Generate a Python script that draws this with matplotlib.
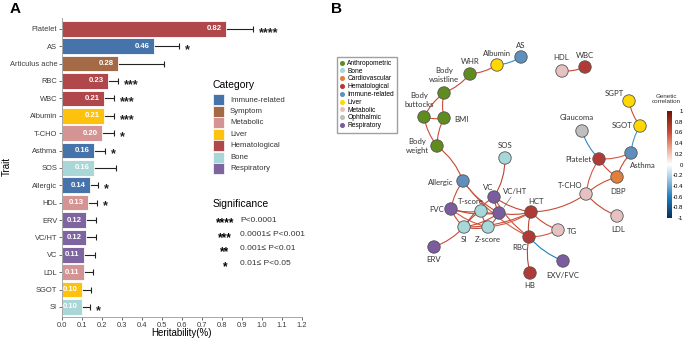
import numpy as np
import matplotlib
matplotlib.use("Agg")
import matplotlib.pyplot as plt
from matplotlib.patches import Rectangle, FancyArrowPatch
from matplotlib.lines import Line2D
from matplotlib.colors import LinearSegmentedColormap, Normalize
from matplotlib.cm import ScalarMappable

plt.rcParams['font.family'] = ['Liberation Sans', 'DejaVu Sans']

# ---- panel A data ----
traits = ['Platelet', 'AS', 'Articulus ache', 'RBC', 'WBC', 'Albumin', 'T-CHO',
          'Asthma', 'SOS', 'Allergic', 'HDL', 'ERV', 'VC/HT', 'VC', 'LDL',
          'SGOT', 'SI']
heritability = [0.82, 0.46, 0.28, 0.23, 0.21, 0.21, 0.20, 0.16, 0.16, 0.14,
                0.13, 0.12, 0.12, 0.11, 0.11, 0.10, 0.10]
herit_upper = [0.955, 0.585, 0.51, 0.28, 0.26, 0.26, 0.258, 0.213, 0.27, 0.18,
               0.174, 0.168, 0.168, 0.165, 0.157, 0.145, 0.14]
trait_category = ['Hematological', 'Immune-related', 'Symptom', 'Hematological',
                  'Hematological', 'Liver', 'Metabolic', 'Immune-related', 'Bone',
                  'Immune-related', 'Metabolic', 'Respiratory', 'Respiratory',
                  'Respiratory', 'Metabolic', 'Liver', 'Bone']
significance = ['****', '*', '', '***', '***', '***', '*', '*', '', '*', '*',
                '', '', '', '', '', '*']

categories = ['Immune-related', 'Symptom', 'Metabolic', 'Liver',
              'Hematological', 'Bone', 'Respiratory']
category_colors = ['#4673aa', '#a46a46', '#d59494', '#fec20c',
                   '#b0474a', '#a9d6d6', '#7e65a0']
sig_levels = ['****', '***', '**', '*']
sig_labels = ['P<0.0001', '0.0001\u2264 P<0.001', '0.001\u2264 P<0.01', '0.01\u2264 P<0.05']

# ---- panel B data ----
net_nodes = ['AS', 'Albumin', 'WHR', 'Body\nwaistline', 'Body\nbuttocks', 'BMI',
             'Body\nweight', 'HDL', 'WBC', 'SGPT', 'SGOT', 'Glaucoma', 'Asthma',
             'Platelet', 'SOS', 'DBP', 'Allergic', 'VC', 'VC/HT', 'T-score',
             'FVC', 'SI', 'Z-score', 'HCT', 'RBC', 'TG', 'HB', 'EXV/FVC',
             'ERV', 'T-CHO', 'LDL']
net_category = ['Immune-related', 'Liver', 'Anthropometric', 'Anthropometric',
                'Anthropometric', 'Anthropometric', 'Anthropometric', 'Metabolic',
                'Hematological', 'Liver', 'Liver', 'Ophthalmic', 'Immune-related',
                'Hematological', 'Bone', 'Cardiovascular', 'Immune-related',
                'Respiratory', 'Respiratory', 'Bone', 'Respiratory', 'Bone', 'Bone',
                'Hematological', 'Hematological', 'Metabolic', 'Hematological',
                'Respiratory', 'Respiratory', 'Metabolic', 'Metabolic']
net_edges = [('Albumin', 'AS'), ('WHR', 'Albumin'), ('Body\nwaistline', 'WHR'),
             ('Body\nwaistline', 'Body\nbuttocks'), ('Body\nwaistline', 'BMI'),
             ('Body\nbuttocks', 'BMI'), ('Body\nbuttocks', 'Body\nweight'),
             ('BMI', 'Body\nweight'), ('Body\nweight', 'Allergic'), ('HDL', 'WBC'),
             ('SGPT', 'SGOT'), ('SGOT', 'Asthma'), ('Glaucoma', 'Platelet'),
             ('Platelet', 'Asthma'), ('Platelet', 'DBP'), ('Asthma', 'DBP'),
             ('DBP', 'T-CHO'), ('Platelet', 'T-CHO'), ('T-CHO', 'LDL'),
             ('T-CHO', 'HCT'), ('SOS', 'VC'), ('Allergic', 'FVC'),
             ('Allergic', 'VC/HT'), ('Allergic', 'RBC'), ('FVC', 'T-score'),
             ('FVC', 'VC/HT'), ('FVC', 'SI'), ('FVC', 'Z-score'), ('VC', 'VC/HT'),
             ('VC', 'SI'), ('VC', 'HCT'), ('VC', 'RBC'), ('T-score', 'SI'),
             ('T-score', 'Z-score'), ('T-score', 'VC/HT'), ('SI', 'Z-score'),
             ('SI', 'VC/HT'), ('SI', 'HCT'), ('Z-score', 'VC/HT'), ('Z-score', 'HCT'),
             ('VC/HT', 'HCT'), ('HCT', 'RBC'), ('HCT', 'TG'), ('RBC', 'TG'),
             ('RBC', 'HB'), ('RBC', 'EXV/FVC'), ('ERV', 'SI')]
edge_corr = [-0.55, 0.6, 0.62, 0.6, 0.6, 0.58, 0.6, 0.6, 0.62, 0.65,
             0.6, -0.5, -0.55, 0.55, 0.6, 0.62, 0.6, 0.55, 0.62, 0.6,
             0.65, 0.6, 0.62, 0.55, 0.6, 0.62, 0.6, 0.55, 0.65, 0.6,
             0.62, 0.6, 0.65, 0.62, 0.6, 0.65, 0.6, 0.58, 0.62, 0.55,
             0.62, 0.65, 0.62, 0.55, 0.65, -0.6, 0.6]

net_categories = ['Anthropometric', 'Bone', 'Cardiovascular', 'Hematological',
                  'Immune-related', 'Liver', 'Metabolic', 'Ophthalmic', 'Respiratory']
net_colors = ['#5f8b1f', '#a7d7d8', '#e0803a', '#b03a36', '#5e8fbd',
              '#ffd800', '#e6c1c1', '#bfbfbf', '#7a5c9f']

# node layout (pixel-like units of panel B) and label placement
layout = {
    'AS': (521, 57), 'Albumin': (497, 65), 'WHR': (470, 74),
    'Body\nwaistline': (444, 93), 'Body\nbuttocks': (424, 117), 'BMI': (444, 118),
    'Body\nweight': (437, 146), 'HDL': (562, 71), 'WBC': (585, 67),
    'SGPT': (629, 101), 'SGOT': (640, 126), 'Glaucoma': (582, 131),
    'Asthma': (631, 153), 'Platelet': (599, 159), 'SOS': (505, 158),
    'DBP': (617, 177), 'Allergic': (463, 181), 'VC': (494, 197),
    'VC/HT': (499, 213), 'T-score': (481, 211), 'FVC': (451, 209),
    'SI': (464, 227), 'Z-score': (488, 227), 'HCT': (531, 212),
    'RBC': (529, 237), 'TG': (558, 230), 'HB': (530, 273),
    'EXV/FVC': (563, 261), 'ERV': (434, 247), 'T-CHO': (586, 194),
    'LDL': (617, 216),
}
label_pos = {
    'AS': (521, 45), 'Albumin': (497, 53), 'WHR': (470, 62),
    'Body\nwaistline': (444, 75), 'Body\nbuttocks': (419, 100), 'BMI': (461, 119),
    'Body\nweight': (417, 146), 'HDL': (561, 58), 'WBC': (585, 56),
    'SGPT': (614, 94), 'SGOT': (622, 126), 'Glaucoma': (577, 117),
    'Asthma': (643, 166), 'Platelet': (578, 160), 'SOS': (505, 146),
    'DBP': (618, 191), 'Allergic': (441, 182), 'VC': (488, 188),
    'VC/HT': (515, 192), 'T-score': (471, 201), 'FVC': (437, 209),
    'SI': (464, 239), 'Z-score': (488, 239), 'HCT': (536, 201),
    'RBC': (520, 247), 'TG': (572, 231), 'HB': (530, 285),
    'EXV/FVC': (563, 276), 'ERV': (434, 259), 'T-CHO': (570, 186),
    'LDL': (618, 230),
}
# edges that bend the other way
flipped = {('Body\nweight', 'Allergic'), ('SOS', 'VC'), ('T-CHO', 'HCT')}

W, H = 685, 343


def fx(px):
    return px / W


def fy(py):
    return 1 - py / H


fig = plt.figure(figsize=(6.85, 3.43), dpi=100)

# ================= panel A =================
ax = fig.add_axes([fx(62), fy(317.4), 240 / W, 299 / H])
cmap_cat = dict(zip(categories, category_colors))
y = np.arange(len(traits))
bar_cols = [cmap_cat[c] for c in trait_category]
herr = np.array(herit_upper) - np.array(heritability)
ax.errorbar(heritability, y, xerr=herr, fmt='none', ecolor='#222222',
            elinewidth=0.8, capsize=2, capthick=0.8, zorder=1)
ax.barh(y, heritability, height=0.9, color=bar_cols, edgecolor='white',
        linewidth=0.6, zorder=2)
STAR_PT = 9
star_off = 0.56 * STAR_PT * 100 / 72 / 17.4   # glyph centre above baseline, in bar units
for yi, h, u, s in zip(y, heritability, herit_upper, significance):
    ax.text(h - 0.058, yi, f'{h:.2f}', color='white', fontsize=5.6,
            fontweight='bold', ha='center', va='center', zorder=3)
    if s:
        ax.text(u + 0.03, yi + star_off, s, fontsize=STAR_PT, fontweight='bold',
                ha='left', va='baseline', color='#222222')
ax.set_xlim(0, 1.2)
ax.set_ylim(len(traits) - 0.4, -0.6)
ax.set_yticks(y)
ax.set_yticklabels(traits)
ax.set_xticks(np.arange(0, 1.21, 0.1))
ax.set_xticklabels([f'{v:.1f}' for v in np.arange(0, 1.21, 0.1)])
ax.tick_params(axis='both', labelsize=5.4, colors='#555555', length=2,
               width=0.6, labelcolor='#3a3a3a', pad=1.5)
for sp in ['top', 'right']:
    ax.spines[sp].set_visible(False)
for sp in ['left', 'bottom']:
    ax.spines[sp].set_color('#999999')
    ax.spines[sp].set_linewidth(0.6)
fig.text(fx(181), fy(333), 'Heritability(%)', fontsize=7, ha='center', va='center')
fig.text(fx(7), fy(167), 'Trait', fontsize=7, ha='center', va='center',
         rotation=90)

# category legend
fig.text(fx(213), fy(85), 'Category', fontsize=7.5, va='center', ha='left')
for i, (name, col) in enumerate(zip(categories, category_colors)):
    yy = 100 + i * 11.45
    fig.add_artist(Rectangle((fx(213), fy(yy + 5.5)), 11 / W, 11 / H,
                             facecolor=col, edgecolor='white', linewidth=0.5))
    fig.text(fx(230), fy(yy), name, fontsize=5.6, va='center', ha='left',
             color='#333333')

# significance legend
fig.text(fx(213), fy(204), 'Significance', fontsize=7.5, va='center', ha='left')
LEG_STAR = 8.5
for i, (lev, lab) in enumerate(zip(sig_levels, sig_labels)):
    yy = 220 + i * 14.5
    fig.text(fx(225), fy(yy + 0.56 * LEG_STAR * 100 / 72), lev, fontsize=LEG_STAR,
             fontweight='bold', ha='center', va='baseline')
    fig.text(fx(240), fy(yy), lab, fontsize=6, ha='left', va='center',
             color='#333333')

fig.text(fx(10), fy(9), 'A', fontsize=11, fontweight='bold', va='center')
fig.text(fx(331), fy(9), 'B', fontsize=11, fontweight='bold', va='center')

# ================= panel B =================
bx = fig.add_axes([fx(320), 0, (W - 320) / W, 1])
bx.set_xlim(320, W)
bx.set_ylim(H, 0)
bx.axis('off')

corr_cmap = LinearSegmentedColormap.from_list(
    'gc', [(0.0, '#0a2f5c'), (0.2, '#1f7fbf'), (0.38, '#a9cfe6'),
           (0.5, '#ffffff'), (0.65, '#f0a890'), (0.8, '#cc4b35'),
           (1.0, '#6e1405')])
norm = Normalize(-1, 1)

for (a, b), c in zip(net_edges, edge_corr):
    rad = -0.15 if (a, b) in flipped else 0.12
    arc = FancyArrowPatch(layout[a], layout[b], connectionstyle=f'arc3,rad={rad}',
                          arrowstyle='-', shrinkA=0, shrinkB=0,
                          color=corr_cmap(norm(c)), lw=0.8, zorder=1)
    bx.add_patch(arc)

ncol = dict(zip(net_categories, net_colors))
xs = [layout[n][0] for n in net_nodes]
ys = [layout[n][1] for n in net_nodes]
bx.scatter(xs, ys, s=80, c=[ncol[c] for c in net_category],
           edgecolors='#555555', linewidths=0.6, zorder=3)
for n in net_nodes:
    lx, ly = label_pos[n]
    bx.text(lx, ly, n, fontsize=5.6, family='Lato', ha='center', va='center',
            color='#333333', linespacing=1.25, zorder=4)
# leader line for VC/HT
bx.plot([504, 511], [207, 197], color='#777777', lw=0.5, zorder=2)

handles = [Line2D([], [], marker='o', ls='', markersize=2.6, color=c)
           for c in net_colors]
fig.legend(handles, net_categories, loc='upper left',
           bbox_to_anchor=(fx(336.5), fy(56.5)), fontsize=4.8, frameon=True,
           fancybox=False, edgecolor='#888888', handlelength=0.6,
           handletextpad=0.5, labelspacing=0.12, borderpad=0.5,
           borderaxespad=0)

cax = fig.add_axes([fx(667), fy(218), 5 / W, 107 / H])
cb = fig.colorbar(ScalarMappable(norm=norm, cmap=corr_cmap), cax=cax)
cb.set_ticks(np.linspace(-1, 1, 11))
cb.set_ticklabels(['-1', '-0.8', '-0.6', '-0.4', '-0.2', '0', '0.2', '0.4',
                   '0.6', '0.8', '1'])
cb.ax.tick_params(labelsize=4.3, length=0, pad=8)
for t in cb.ax.get_yticklabels():
    t.set_horizontalalignment('right')
cb.outline.set_visible(False)
fig.text(fx(666), fy(99), 'Genetic\ncorrelation', fontsize=4.5, ha='center',
         va='center', color='#333333')

fig.savefig('out.png', dpi=100)
